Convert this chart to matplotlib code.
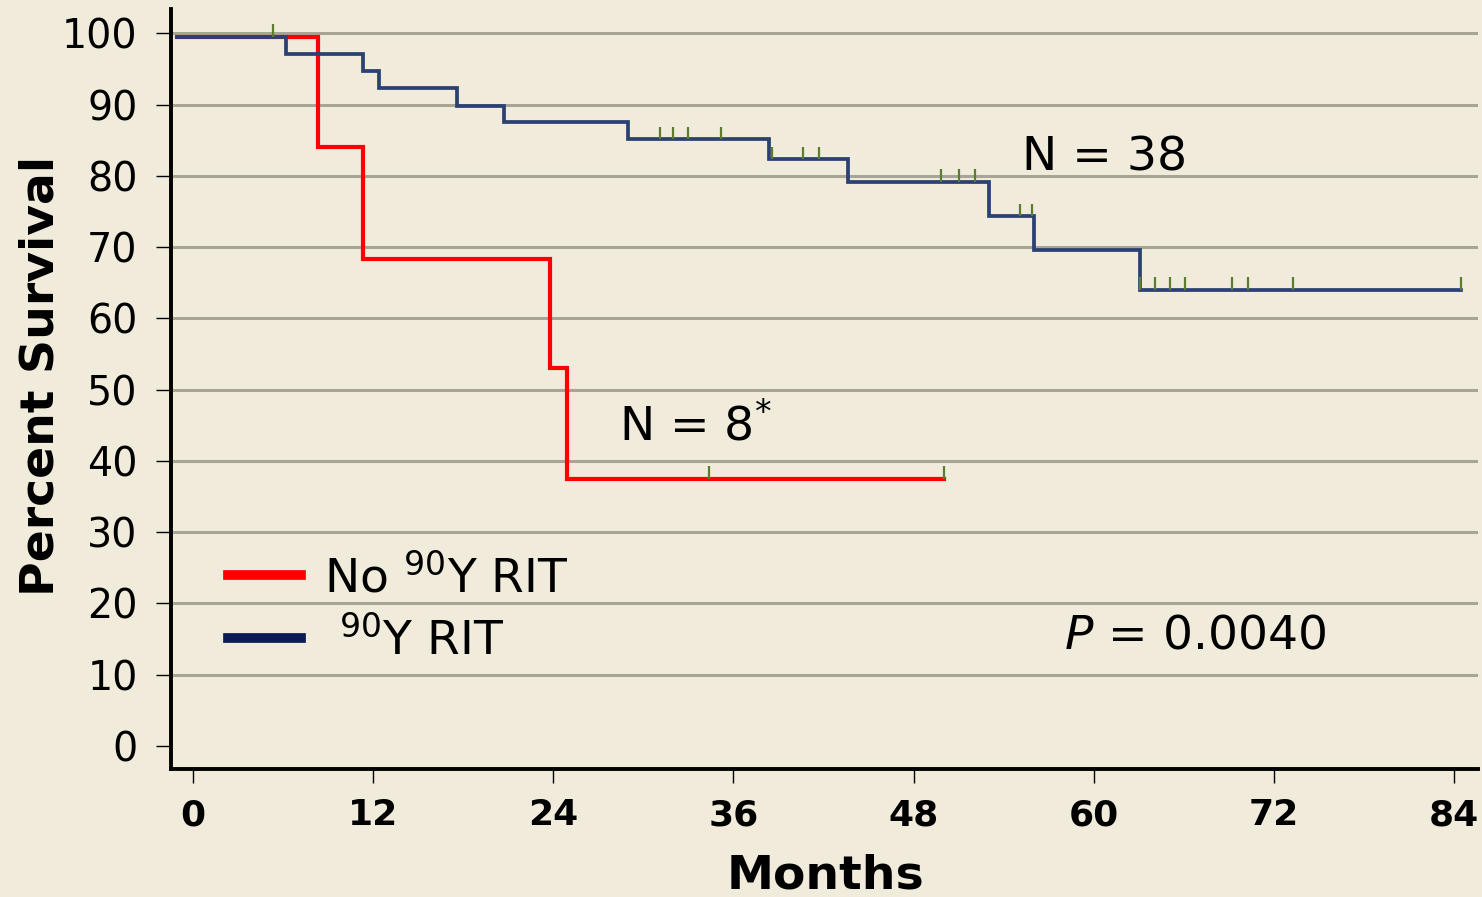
import numpy as np
import matplotlib
matplotlib.use("Agg")
import matplotlib.pyplot as plt
from matplotlib.lines import Line2D

# ------------------------------------------------------------
# Data (months, percent survival)
# ------------------------------------------------------------

no_rit_times = [-1.1, 8.3, 11.3, 23.8, 24.9, 50.0]
no_rit_surv = [99.5, 84.0, 68.3, 53.0, 37.5, 37.5]
no_rit_censor = [34.4, 50.0]

rit_times = [-1.1, 6.2, 11.3, 12.4, 17.6, 20.7, 29.0, 38.4, 43.6, 53.0, 56.0, 63.1, 84.5]
rit_surv = [99.5, 97.1, 94.7, 92.3, 89.8, 87.5, 85.1, 82.3, 79.1, 74.3, 69.6, 64.0, 64.0]
rit_censor = [5.3, 31.1, 32.0, 33.0, 35.2, 38.6, 40.6, 41.7, 49.8, 51.0, 52.1,
              55.1, 55.9, 63.1, 64.1, 65.1, 66.1, 69.2, 70.3, 73.3, 84.5]

x_ticks = [0, 12, 24, 36, 48, 60, 72, 84]
y_ticks = [0, 10, 20, 30, 40, 50, 60, 70, 80, 90, 100]
grid_levels = [10, 20, 30, 40, 50, 60, 70, 80, 90, 100]

legend_labels = [r"No $^{90}$Y RIT", r" $^{90}$Y RIT"]

# ------------------------------------------------------------
# Style
# ------------------------------------------------------------

bg = "#F0EBDA"
red = "#FF0000"
blue = "#2B4172"
legend_blue = "#0B1B55"
censor_green = "#5B7D2F"
grid_grey = "#A8A496"

plt.rcParams["font.family"] = ["DejaVu Sans"]
plt.rcParams["mathtext.fontset"] = "dejavusans"


def step_value(times, surv, t):
    idx = np.searchsorted(times, t, side="right") - 1
    return np.asarray(surv)[idx]


fig = plt.figure(figsize=(14.82, 8.97), dpi=100, facecolor=bg)
ax = fig.add_axes([171 / 1482, 1 - 769 / 897, (1478 - 171) / 1482, (769 - 9) / 897])
ax.set_facecolor(bg)

# horizontal grid
for g in grid_levels:
    ax.axhline(g, color=grid_grey, lw=2.2, zorder=1)

# survival curves
ax.step(no_rit_times, no_rit_surv, where="post", color=red, lw=3.0,
        solid_joinstyle="miter", zorder=3)
ax.step(rit_times, rit_surv, where="post", color=blue, lw=2.7,
        solid_joinstyle="miter", zorder=3)

# censor marks
tick_h = 1.8
for times, surv, cens in [(no_rit_times, no_rit_surv, no_rit_censor),
                          (rit_times, rit_surv, rit_censor)]:
    lvl = step_value(times, surv, cens)
    ax.vlines(cens, lvl, lvl + tick_h, color=censor_green, lw=1.6, zorder=4)

# axes
ax.set_xlim(-1.47, 85.6)
ax.set_ylim(-3.23, 103.4)
ax.set_xticks(x_ticks)
ax.set_yticks(y_ticks)
for s in ["top", "right"]:
    ax.spines[s].set_visible(False)
for s in ["left", "bottom"]:
    ax.spines[s].set_linewidth(2.8)
    ax.spines[s].set_color("black")

ax.tick_params(axis="y", direction="out", length=11, width=1.0, pad=13,
               labelsize=28.5)
ax.tick_params(axis="x", direction="out", length=10, width=1.0, pad=11,
               labelsize=26)
for lab in ax.get_xticklabels():
    lab.set_fontweight("bold")

ax.set_ylabel("Percent Survival", fontsize=34, fontweight="bold")
ax.yaxis.label.set_va("baseline")
ax.yaxis.set_label_coords(-0.090, 0.517)
ax.set_xlabel("Months", fontsize=34, fontweight="bold")
ax.xaxis.label.set_va("baseline")
ax.xaxis.set_label_coords(0.5004, -0.157)

# annotations
ax.text(55.2, 80.8, "N = 38", fontsize=34, ha="left", va="baseline")
ax.text(28.4, 42.9, r"N = 8$^{*}$", fontsize=34, ha="left", va="baseline")
ax.text(58.0, 13.7, r"$P$ = 0.0040", fontsize=34, ha="left", va="baseline")

# legend
handles = [Line2D([], [], color=red, lw=7),
           Line2D([], [], color=legend_blue, lw=7)]
ax.legend(handles, legend_labels, loc="upper left",
          bbox_to_anchor=(0.0437, 0.282), frameon=False, fontsize=34,
          handlelength=1.55, handletextpad=0.47, labelspacing=0.33,
          borderpad=0, borderaxespad=0)

fig.savefig("out.png", dpi=100, facecolor=bg)
